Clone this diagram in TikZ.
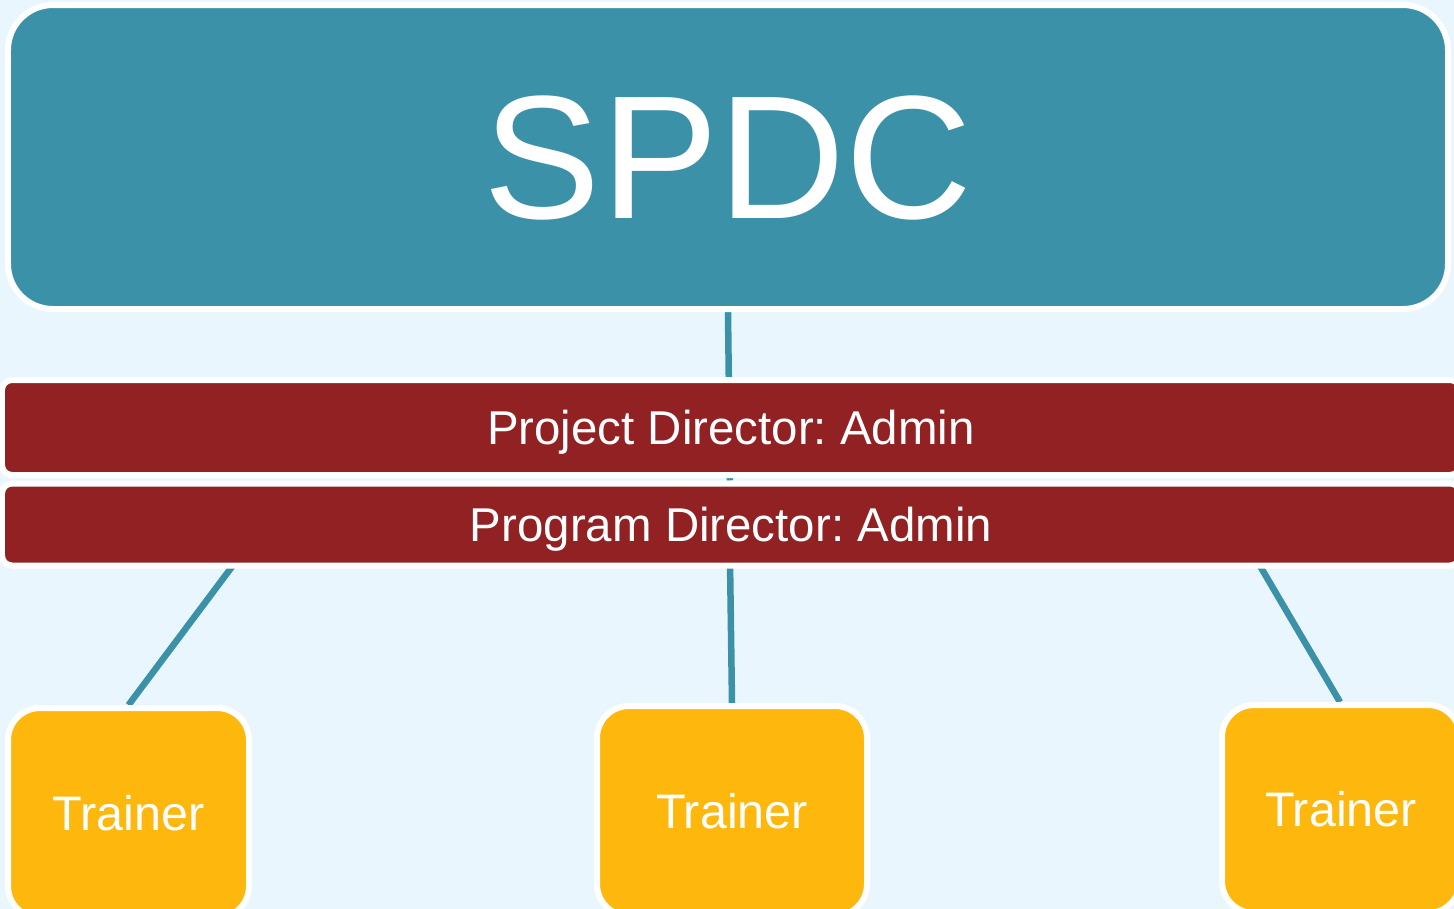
\documentclass[tikz,border=0pt]{standalone}
\usepackage{fontspec}
\setmainfont{Liberation Sans}
\frenchspacing
\definecolor{bgblue}{HTML}{EAF6FD}
\definecolor{spdcteal}{HTML}{3B91A7}
\definecolor{dirred}{HTML}{912122}
\definecolor{trainyellow}{HTML}{FDB70D}
\pgfdeclarelayer{paper}
\pgfdeclarelayer{wires}
\pgfsetlayers{paper,wires,main}

\begin{document}
\begin{tikzpicture}
					\useasboundingbox (0,0) rectangle (14.54,-9.09);
					\begin{pgfonlayer}{paper}
						\fill[bgblue] (0,0) rectangle (14.54,-9.09);
					\end{pgfonlayer}
					\clip (0,0) rectangle (14.54,-9.09);

					\begin{scope}[every node/.style={draw=white,line width=0.06cm,text=white,inner sep=0pt,text depth=0pt}]
						\node[fill=spdcteal,rounded corners=0.45cm,minimum width=14.40cm,minimum height=3.04cm,font=\fontsize{50}{60}\selectfont] (spdc) at (7.28,-1.57) {SPDC};
						\node[fill=dirred,rounded corners=0.1cm,minimum width=14.58cm,minimum height=0.95cm,font=\fontsize{13.5}{16}\selectfont] (proj) at (7.31,-4.275) {Project Director: Admin};
						\node[fill=dirred,rounded corners=0.1cm,minimum width=14.58cm,minimum height=0.82cm,font=\fontsize{13.5}{16}\selectfont] (prog) at (7.31,-5.245) {Program Director: Admin};
						\node[fill=trainyellow,rounded corners=0.32cm,minimum width=2.41cm,minimum height=2.10cm,font=\fontsize{13.8}{17}\selectfont] (trainA) at (1.285,-8.13) {Trainer};
						\node[fill=trainyellow,rounded corners=0.32cm,minimum width=2.70cm,minimum height=2.10cm,font=\fontsize{13.8}{17}\selectfont] (trainB) at (7.32,-8.11) {Trainer};
						\node[fill=trainyellow,rounded corners=0.32cm,minimum width=2.38cm,minimum height=2.08cm,font=\fontsize{13.8}{17}\selectfont] (trainC) at (13.41,-8.09) {Trainer};
					\end{scope}

					% points on the lower bar where the trainer lines start
					\coordinate (pl) at (2.37,-5.60);
					\coordinate (pm) at (7.30,-5.60);
					\coordinate (pr) at (12.565,-5.60);

					\begin{pgfonlayer}{wires}
					\begin{scope}[every edge/.style={draw=spdcteal,line width=0.065cm}]
						\path (spdc.south) edge ([xshift=0.02cm]spdc.south |- prog.north);
						\path (pl) edge (trainA.north);
						\path (pm) edge (trainB.north);
						\path (pr) edge ([xshift=-0.01cm]trainC.north);
					\end{scope}
					\end{pgfonlayer}
				\end{tikzpicture}
\end{document}
